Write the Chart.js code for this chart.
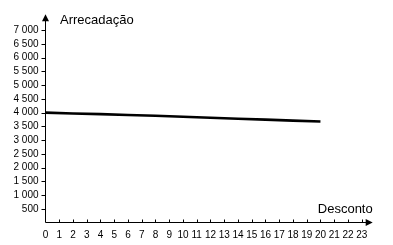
<!DOCTYPE html>
<html>
<head>
<meta charset="utf-8">
<script src="https://cdn.jsdelivr.net/npm/chart.js@4.4.1/dist/chart.umd.min.js"></script>
<style>
  html, body { margin: 0; padding: 0; background: #fff; }
  #wrap { width: 393px; height: 245px; position: relative; }
</style>
</head>
<body>
<div id="wrap"><canvas id="c"></canvas></div>
<script>
// ---- data ----
const discounts = [0, 2, 4, 6, 8, 10, 12, 14, 16, 18, 20];
const revenue   = [4000, 3970, 3945, 3915, 3885, 3850, 3815, 3780, 3745, 3710, 3675];
const xTicks = [0,1,2,3,4,5,6,7,8,9,10,11,12,13,14,15,16,17,18,19,20,21,22,23];
const yTicks = [500,1000,1500,2000,2500,3000,3500,4000,4500,5000,5500,6000,6500,7000];
const xTitle = 'Desconto';
const yTitle = 'Arrecadação';

function fmt(v) {
  return String(v).replace(/\B(?=(\d{3})+(?!\d))/g, ' ');
}

const axesPlugin = {
  id: 'axesArrows',
  afterDraw(chart) {
    const ctx = chart.ctx;
    const a = chart.chartArea;
    const xs = chart.scales.x, ys = chart.scales.y;
    const x0 = Math.floor(a.left) + 0.5;
    const y0 = Math.floor(a.bottom) + 0.5;
    ctx.save();
    ctx.strokeStyle = '#000';
    ctx.fillStyle = '#000';
    ctx.lineWidth = 1;
    // y axis
    ctx.beginPath();
    ctx.moveTo(x0, y0);
    ctx.lineTo(x0, a.top + 6);
    ctx.stroke();
    ctx.beginPath();
    ctx.moveTo(x0, a.top);
    ctx.lineTo(x0 - 3.5, a.top + 7);
    ctx.lineTo(x0 + 3.5, a.top + 7);
    ctx.closePath();
    ctx.fill();
    // x axis
    ctx.beginPath();
    ctx.moveTo(x0, y0);
    ctx.lineTo(a.right - 6, y0);
    ctx.stroke();
    ctx.beginPath();
    ctx.moveTo(a.right, y0);
    ctx.lineTo(a.right - 7, y0 - 3.5);
    ctx.lineTo(a.right - 7, y0 + 3.5);
    ctx.closePath();
    ctx.fill();
    // y tick marks (outside)
    ctx.beginPath();
    yTicks.forEach(v => {
      const y = Math.round(ys.getPixelForValue(v)) + 0.5;
      ctx.moveTo(x0 - 4, y);
      ctx.lineTo(x0, y);
    });
    // x tick marks (inside)
    xTicks.forEach(v => {
      if (v === 0) return;
      const x = Math.round(xs.getPixelForValue(v)) + 0.5;
      ctx.moveTo(x, y0 - 3);
      ctx.lineTo(x, y0);
    });
    ctx.stroke();
    // titles
    ctx.font = '13px "Liberation Sans", Arial, sans-serif';
    ctx.textBaseline = 'alphabetic';
    ctx.textAlign = 'left';
    ctx.fillText(yTitle, 60, 24);
    ctx.textAlign = 'right';
    ctx.fillText(xTitle, a.right, 213);
    ctx.restore();
  }
};

new Chart(document.getElementById('c'), {
  type: 'line',
  data: {
    datasets: [{
      data: discounts.map((d, i) => ({ x: d, y: revenue[i] })),
      borderColor: '#000',
      borderWidth: 2.6,
      pointRadius: 0,
      tension: 0,
      fill: false
    }]
  },
  options: {
    responsive: true,
    maintainAspectRatio: false,
    animation: false,
    layout: { padding: { top: 14.3, right: 20.3, left: 0, bottom: 0 } },
    plugins: { legend: { display: false }, tooltip: { enabled: false } },
    scales: {
      x: {
        type: 'linear',
        min: 0,
        max: 23.8,
        afterBuildTicks: s => { s.ticks = xTicks.map(v => ({ value: v })); },
        afterFit: s => { s.height = 22.5; },
        grid: { display: false, drawTicks: false },
        border: { display: false },
        ticks: {
          autoSkip: false,
          maxRotation: 0,
          padding: 7,
          color: '#000',
          font: { family: '"Liberation Sans", Arial, sans-serif', size: 10 },
          callback: v => String(v)
        }
      },
      y: {
        type: 'linear',
        min: 0,
        max: 7580,
        afterBuildTicks: s => { s.ticks = yTicks.map(v => ({ value: v })); },
        afterFit: s => { s.width = 45.5; },
        grid: { display: false, drawTicks: false },
        border: { display: false },
        ticks: {
          autoSkip: false,
          padding: 7,
          color: '#000',
          font: { family: '"Liberation Sans", Arial, sans-serif', size: 10 },
          callback: v => fmt(v)
        }
      }
    }
  },
  plugins: [axesPlugin]
});
</script>
</body>
</html>
